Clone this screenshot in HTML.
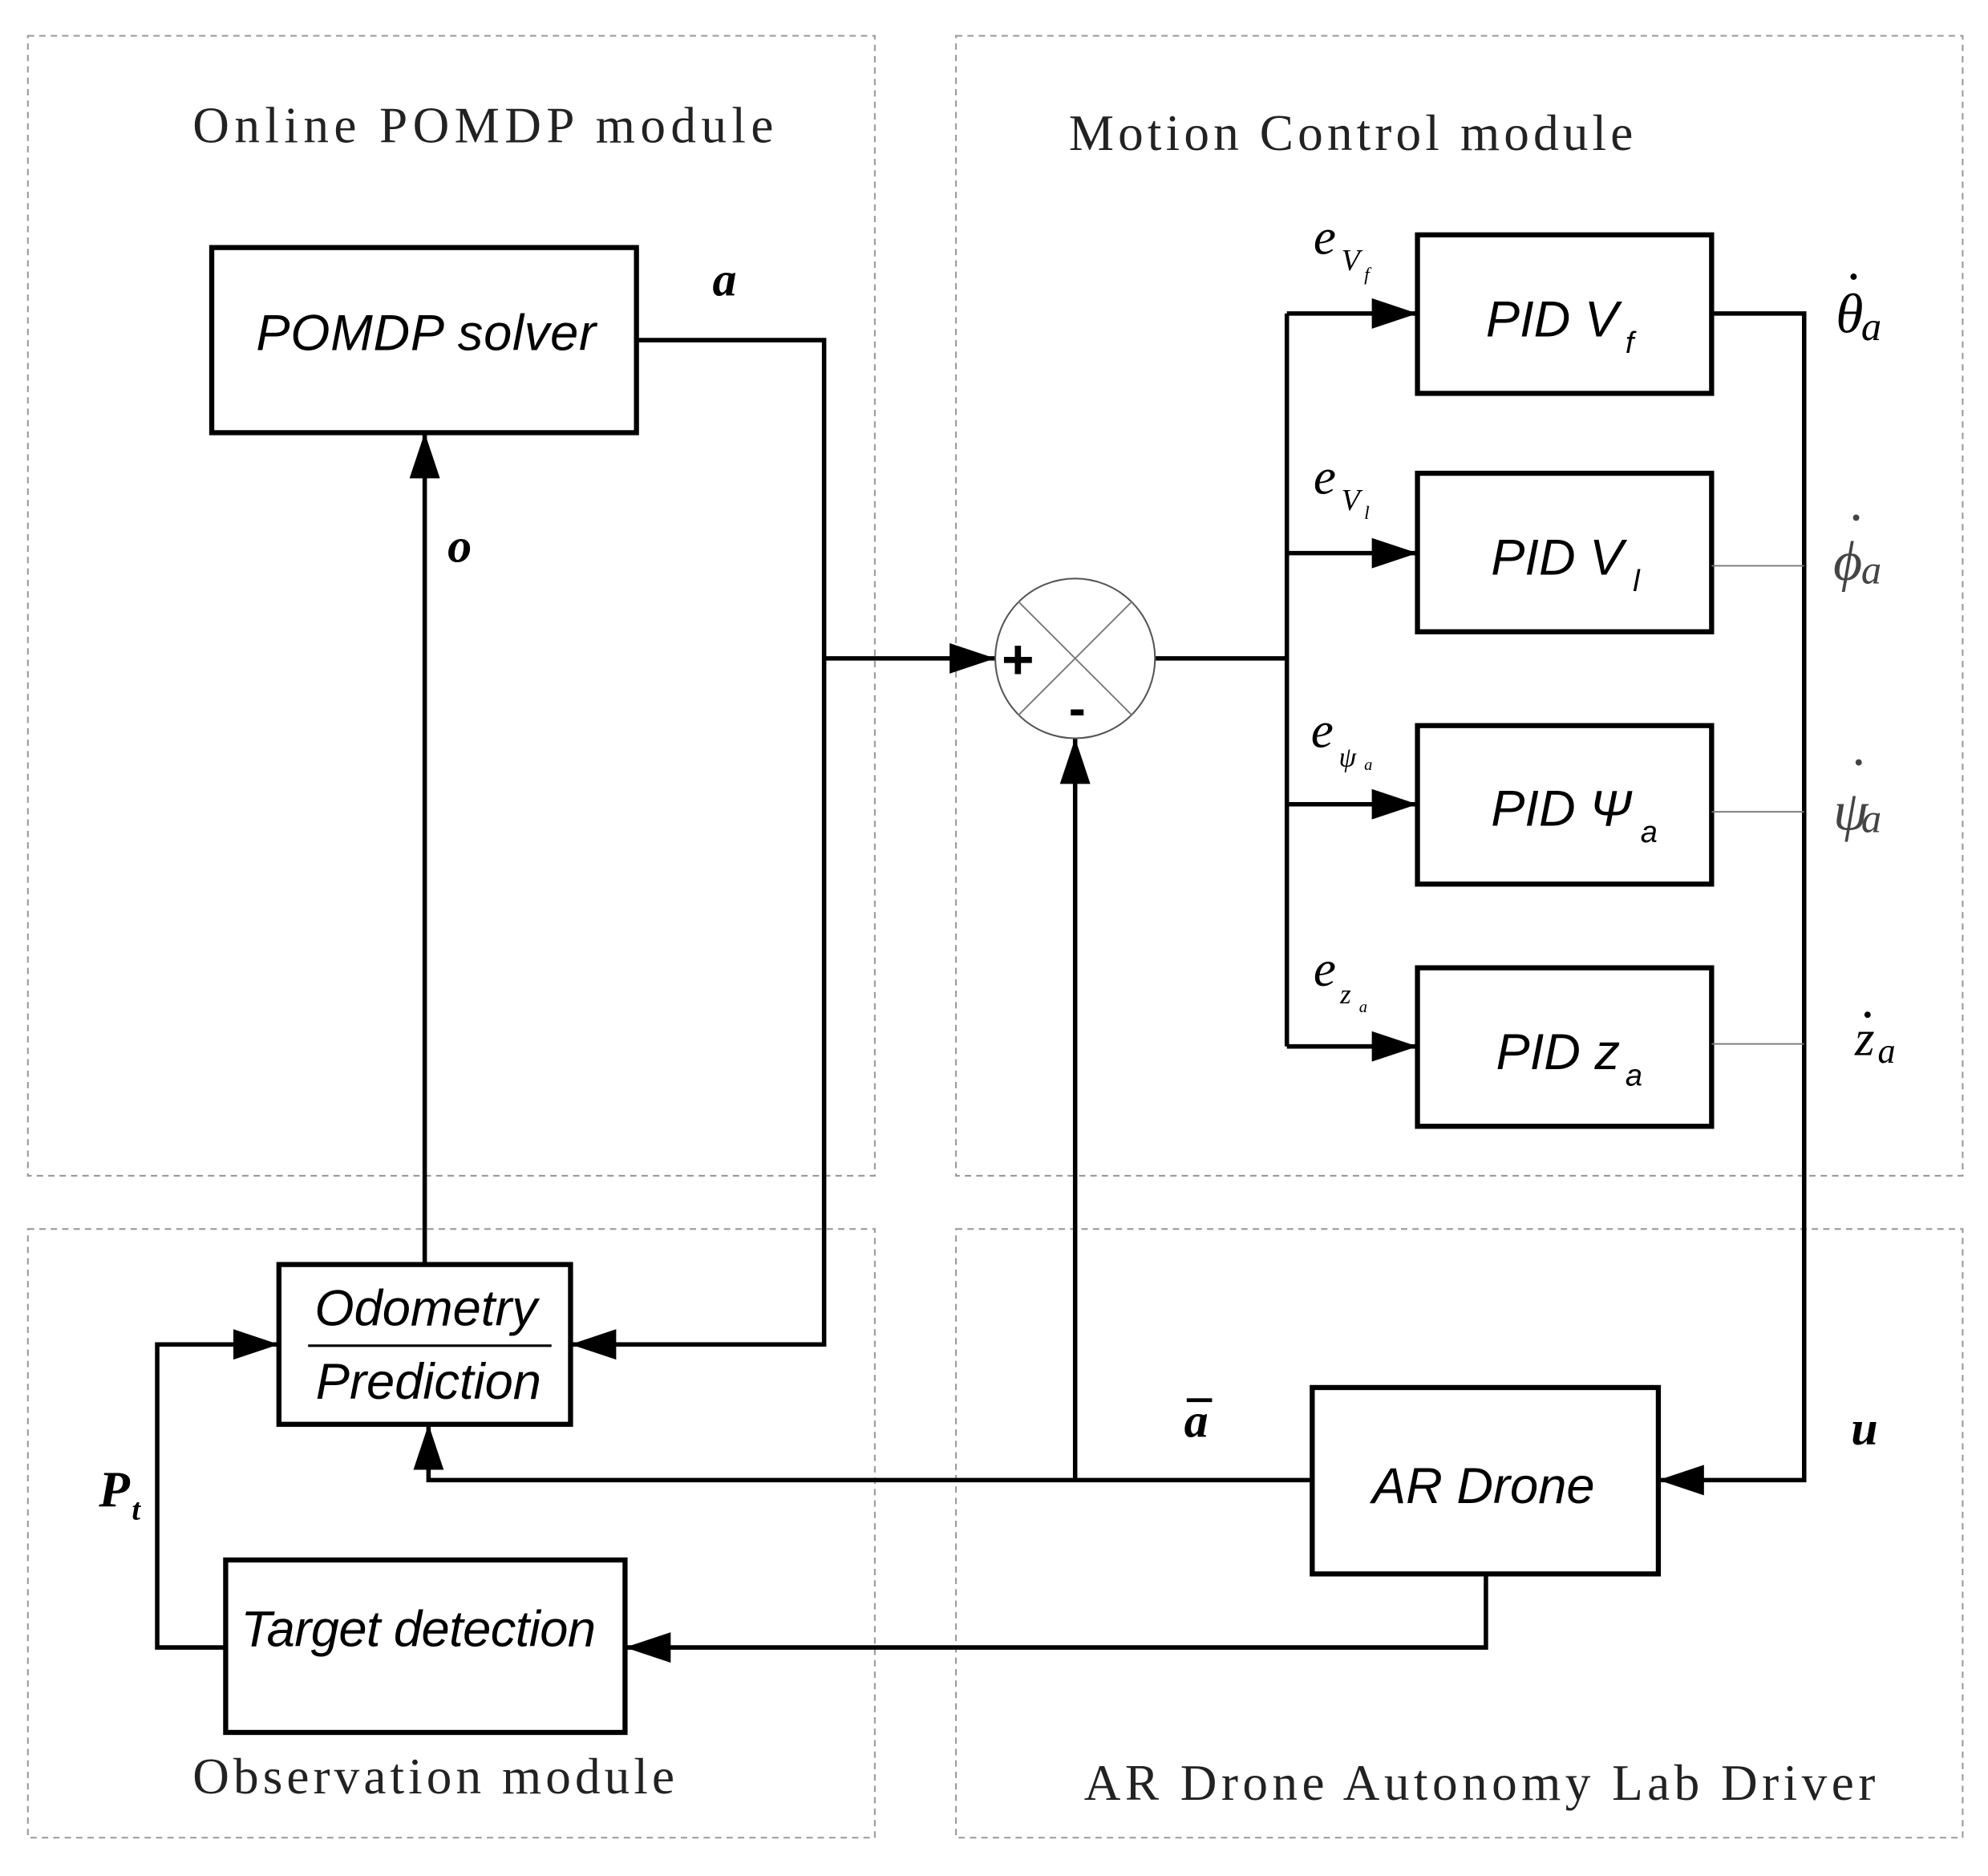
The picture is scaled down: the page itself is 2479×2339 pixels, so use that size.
<!DOCTYPE html>
<html><head><meta charset="utf-8"><style>
html,body{margin:0;padding:0;background:#fff;}
svg{display:block;}
.t{font-family:"Liberation Serif",serif;fill:#222;}
.i{font-family:"Liberation Sans",sans-serif;font-style:italic;fill:#000;}
.m{font-family:"Liberation Serif",serif;font-style:italic;fill:#000;}
</style></head><body>
<svg width="2479" height="2339" viewBox="0 0 1568 1479" xmlns="http://www.w3.org/2000/svg">
<defs>
<marker id="a2" viewBox="0 0 36 24" refX="36" refY="12" markerWidth="36" markerHeight="24" orient="auto" markerUnits="userSpaceOnUse"><path d="M0,0 L36,12 L0,24 z" fill="#000"/></marker></defs>
<g fill="none" stroke="#999" stroke-width="1.3" stroke-dasharray="5,4">
<rect x="22" y="28" width="668" height="899"/>
<rect x="754" y="28" width="794" height="899"/>
<rect x="22" y="969" width="668" height="480"/>
<rect x="754" y="969" width="794" height="480"/>
</g>
<text class="t" x="152" y="112" font-size="40" textLength="458" lengthAdjust="spacing">Online POMDP module</text>
<text class="t" x="843" y="118" font-size="40" textLength="445" lengthAdjust="spacing">Motion Control module</text>
<text class="t" x="152" y="1414" font-size="40" textLength="380" lengthAdjust="spacing">Observation module</text>
<text class="t" x="855" y="1419" font-size="40" textLength="624" lengthAdjust="spacing">AR Drone Autonomy Lab Driver</text>
<g fill="none" stroke="#000" stroke-width="4">
<rect x="167" y="195" width="335" height="146"/>
<rect x="220" y="997" width="230" height="126"/>
<rect x="178" y="1230" width="315" height="136"/>
<rect x="1035" y="1094" width="273" height="147"/>
<rect x="1118" y="185" width="232" height="125"/>
<rect x="1118" y="373" width="232" height="125"/>
<rect x="1118" y="572" width="232" height="125"/>
<rect x="1118" y="763" width="232" height="125"/>
</g>
<g fill="none" stroke="#000" stroke-width="3.5">
<polyline points="502,268 650,268 650,1060 450,1060" marker-end="url(#a2)"/>
<polyline points="650,519 785,519" marker-end="url(#a2)"/>
<polyline points="335,997 335,341" marker-end="url(#a2)"/>
<polyline points="911,519 1015,519"/>
<polyline points="1015,247 1015,825"/>
<polyline points="1015,247 1118,247" marker-end="url(#a2)"/>
<polyline points="1015,436 1118,436" marker-end="url(#a2)"/>
<polyline points="1015,634 1118,634" marker-end="url(#a2)"/>
<polyline points="1015,825 1118,825" marker-end="url(#a2)"/>
<polyline points="1350,247 1423,247 1423,1167 1308,1167" marker-end="url(#a2)"/>
<polyline points="1035,1167 338,1167 338,1123" marker-end="url(#a2)"/>
<polyline points="848,1167 848,582" marker-end="url(#a2)"/>
<polyline points="1172,1241 1172,1299 493,1299" marker-end="url(#a2)"/>
<polyline points="178,1299 124,1299 124,1060 220,1060" marker-end="url(#a2)"/>
</g>
<g stroke="#777" stroke-width="1.2">
<line x1="1350" y1="446" x2="1423" y2="446"/>
<line x1="1350" y1="640" x2="1423" y2="640"/>
<line x1="1350" y1="823" x2="1423" y2="823"/>
</g>
<circle cx="848" cy="519" r="63" fill="none" stroke="#555" stroke-width="1.3"/>
<g stroke="#777" stroke-width="1.2"><line x1="803" y1="474" x2="893" y2="564"/><line x1="893" y1="474" x2="803" y2="564"/></g>
<text x="790" y="535" font-size="44" font-family="Liberation Sans,sans-serif" font-weight="bold">+</text>
<text x="843" y="572" font-size="40" font-family="Liberation Sans,sans-serif" font-weight="bold">-</text>
<text class="i" x="336" y="276" font-size="40" text-anchor="middle" textLength="268" lengthAdjust="spacing">POMDP solver</text>
<text class="i" x="336" y="1045" font-size="40" text-anchor="middle">Odometry</text>
<line x1="243" y1="1061" x2="435" y2="1061" stroke="#000" stroke-width="2"/>
<text class="i" x="338" y="1103" font-size="40" text-anchor="middle">Prediction</text>
<text class="i" x="330" y="1298" font-size="40" text-anchor="middle" textLength="280" lengthAdjust="spacing">Target detection</text>
<text class="i" x="1170" y="1185" font-size="40" text-anchor="middle">AR Drone</text>
<text class="i" x="1172" y="265" font-size="40">PID V</text><text class="i" x="1282" y="278" font-size="24">f</text>
<text class="i" x="1176" y="453" font-size="40">PID V</text><text class="i" x="1288" y="466" font-size="24">l</text>
<text class="i" x="1176" y="651" font-size="40">PID Ψ</text><text class="i" x="1294" y="664" font-size="24">a</text>
<text class="i" x="1180" y="843" font-size="40">PID z</text><text class="i" x="1282" y="856" font-size="24">a</text>
<g class="m" font-weight="bold">
<text x="562" y="233" font-size="38">a</text>
<text x="353" y="443" font-size="38">o</text>
<text x="934" y="1133" font-size="38">a</text>
<text x="1460" y="1139" font-size="38">u</text>
<text x="78" y="1188" font-size="40">P</text><text x="104" y="1198" font-size="24">t</text>
</g>
<line x1="936" y1="1104" x2="956" y2="1104" stroke="#000" stroke-width="3"/>
<g class="m">
<text x="1036" y="200" font-size="40">e</text><text x="1058" y="213" font-size="24">V</text><text x="1076" y="221" font-size="15">f</text>
<text x="1036" y="389" font-size="40">e</text><text x="1058" y="402" font-size="24">V</text><text x="1076" y="409" font-size="15">l</text>
<text x="1034" y="589" font-size="40">e</text><text x="1056" y="604" font-size="22">ψ</text><text x="1076" y="607" font-size="13">a</text>
<text x="1036" y="777" font-size="40">e</text><text x="1057" y="791" font-size="22">z</text><text x="1072" y="798" font-size="13">a</text>
<text x="1448" y="262" font-size="44">θ</text><text x="1468" y="268" font-size="32">a</text><circle cx="1462" cy="218" r="2.5" fill="#000"/>
<text x="1446" y="457" font-size="44" fill="#444">ϕ</text><text x="1468" y="460" font-size="32" fill="#444">a</text><circle cx="1464" cy="408" r="2.5" fill="#444"/>
<text x="1446" y="654" font-size="44" fill="#444">ψ</text><text x="1468" y="656" font-size="32" fill="#444">a</text><circle cx="1466" cy="601" r="2.5" fill="#444"/>
<text x="1463" y="832" font-size="40">z</text><text x="1481" y="838" font-size="28">a</text><circle cx="1473" cy="800" r="2.5" fill="#000"/>
</g>
</svg>
</body></html>
